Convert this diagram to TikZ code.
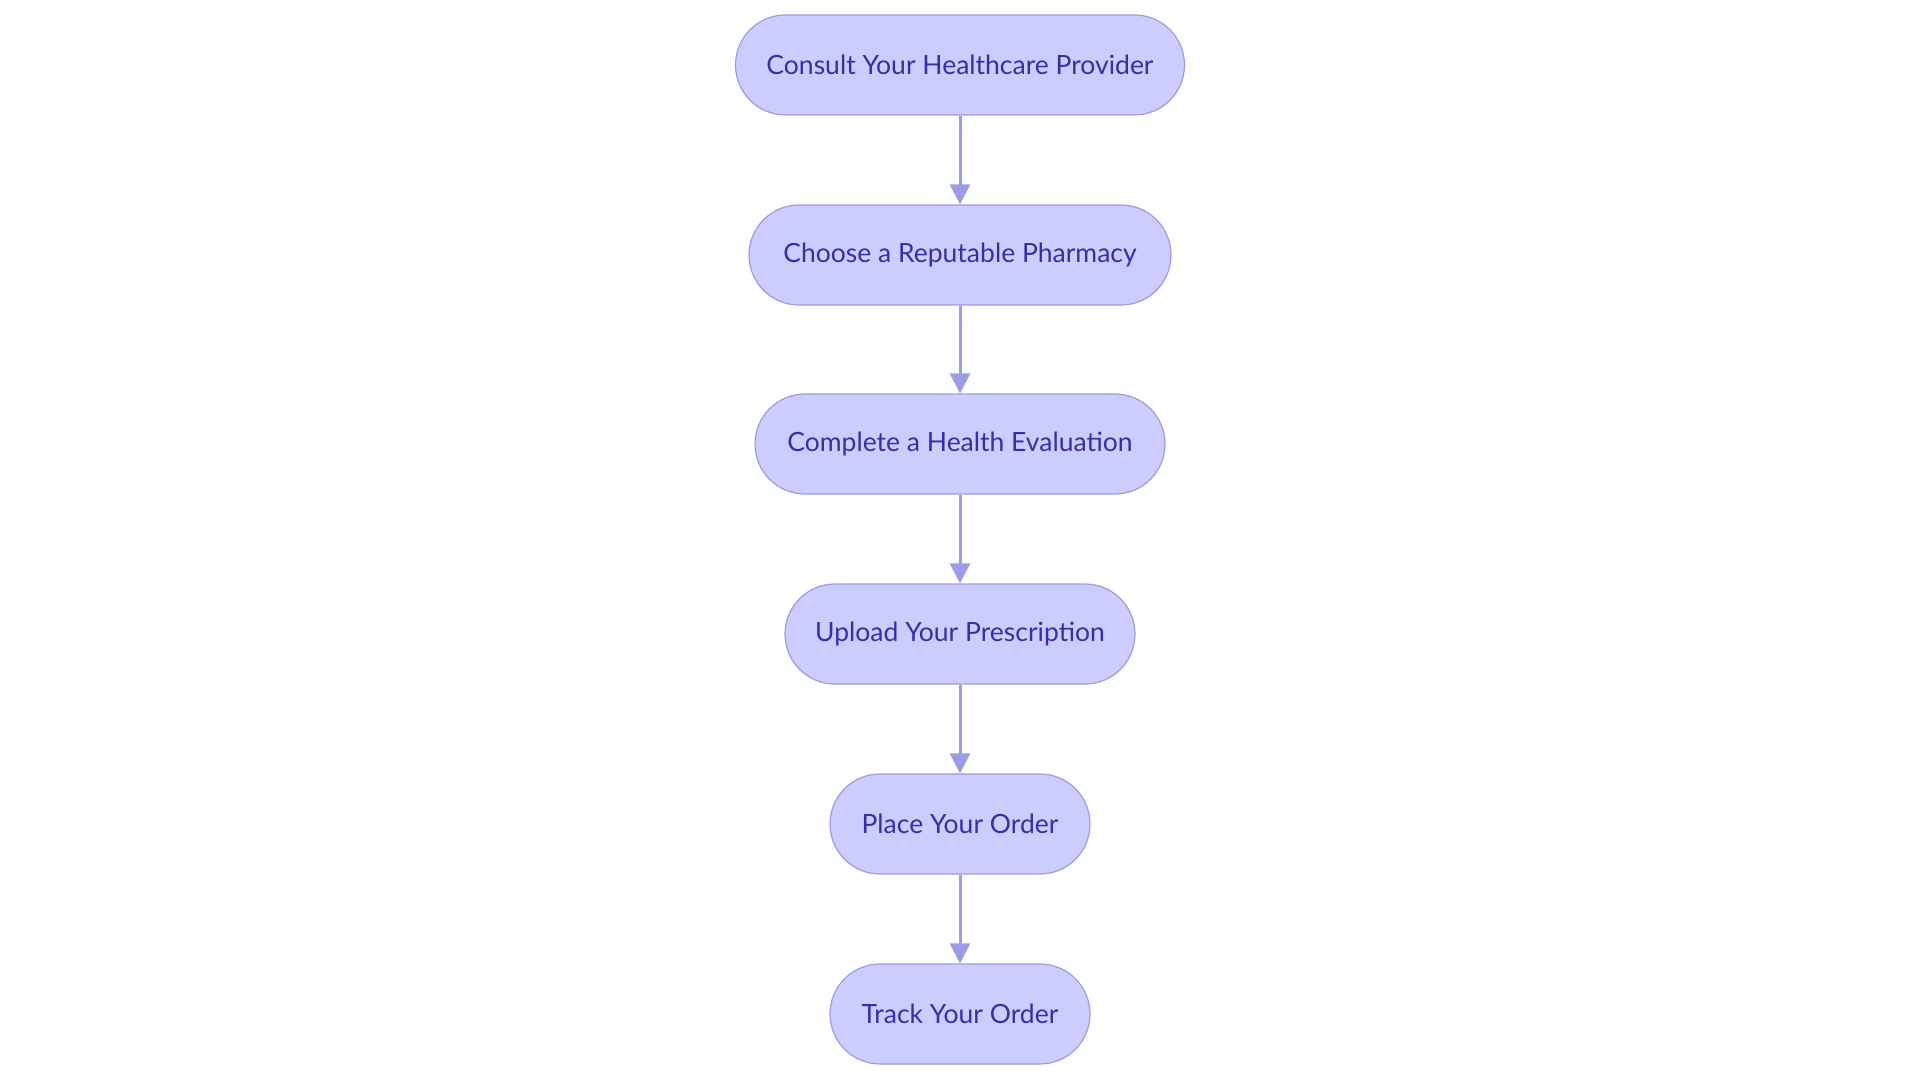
\documentclass[tikz,border=0pt]{standalone}
\usepackage{fontspec}
\setmainfont{Lato}
\usetikzlibrary{arrows.meta}
\definecolor{nfill}{HTML}{CCCCFF}
\definecolor{nborder}{HTML}{9C9CE0}
\definecolor{ntext}{HTML}{3232A8}
\definecolor{arr}{HTML}{9C9CE6}
\tikzset{
  pill/.style={draw=nborder, fill=nfill, line width=1.2pt, rounded corners=50pt,
    minimum height=100pt, inner sep=0pt, text=ntext, font=\fontsize{26.5}{30}\selectfont},
  conn/.style={draw=arr, line width=3pt, -{Triangle[length=20pt,width=20pt]}}
}
\begin{document}
\begin{tikzpicture}[x=1pt,y=-1pt]
\useasboundingbox (0,0) rectangle (1920,1083);
\node[pill, minimum width=449pt] (a) at (960,65) {Consult Your Healthcare Provider};
\node[pill, minimum width=422pt] (b) at (960,255) {Choose a Reputable Pharmacy};
\node[pill, minimum width=410pt] (c) at (960,444) {Complete a Health Evaluation};
\node[pill, minimum width=350pt] (d) at (960,634) {Upload Your Prescription};
\node[pill, minimum width=260pt] (e) at (960,824) {Place Your Order};
\node[pill, minimum width=260pt] (f) at (960,1014) {Track Your Order};
\draw[conn] (a) -- (b);
\draw[conn] (b) -- (c);
\draw[conn] (c) -- (d);
\draw[conn] (d) -- (e);
\draw[conn] (e) -- (f);
\end{tikzpicture}
\end{document}
